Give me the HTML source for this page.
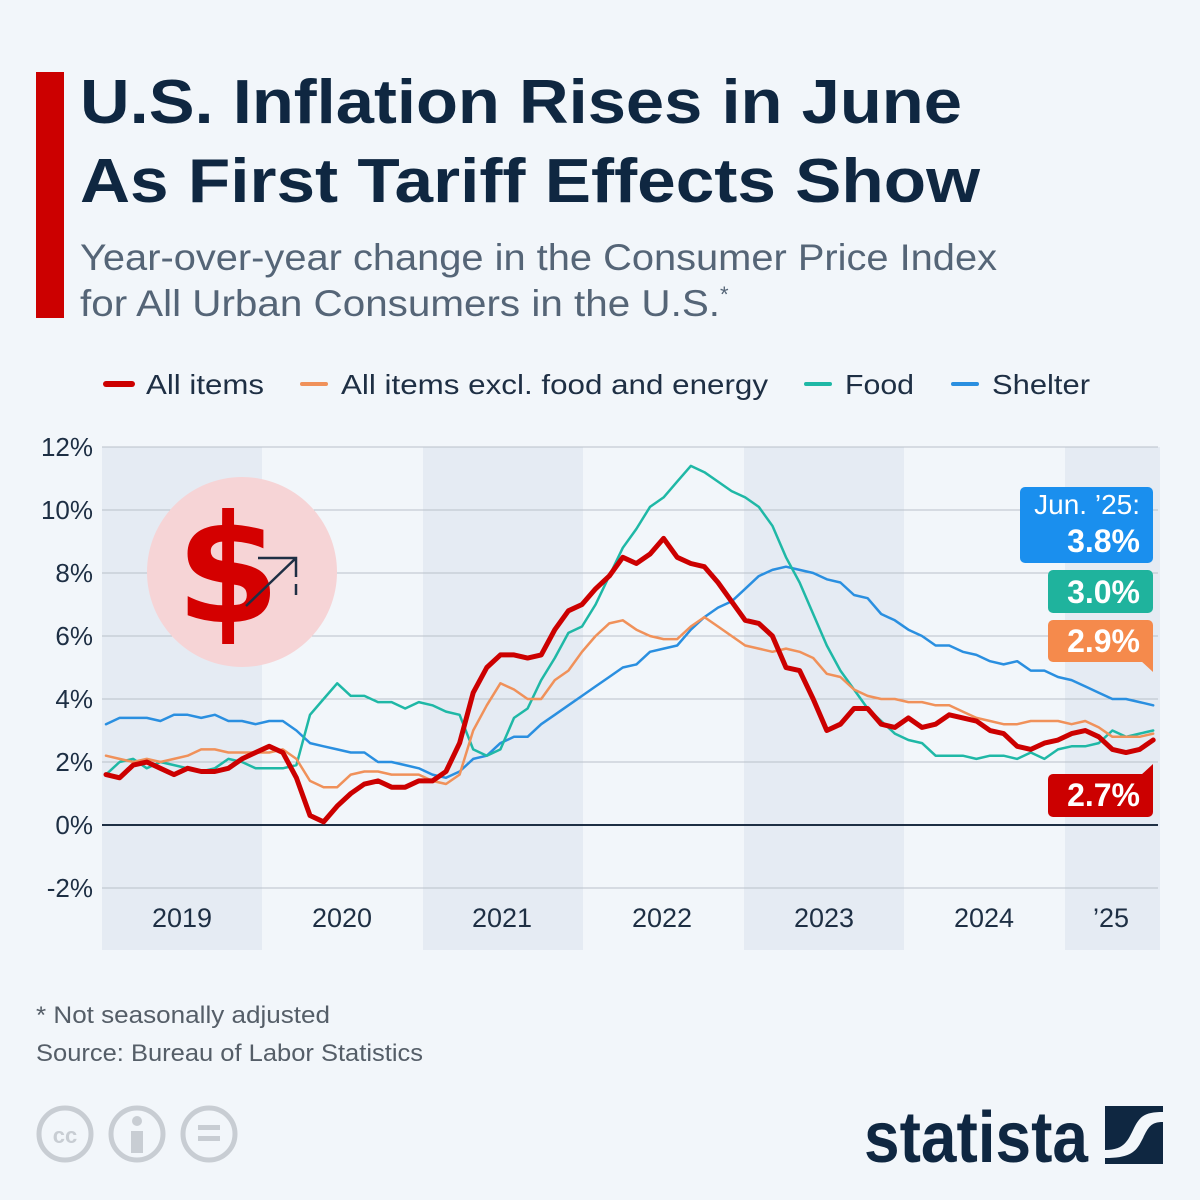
<!DOCTYPE html>
<html><head><meta charset="utf-8"><style>
html,body{margin:0;padding:0;background:#f2f6fa;}
svg{display:block;font-family:"Liberation Sans",sans-serif;}
</style></head><body>
<svg id="s" width="1200" height="1200" viewBox="0 0 1200 1200" xmlns="http://www.w3.org/2000/svg">
<rect width="1200" height="1200" fill="#f2f6fa"/>
<rect x="36" y="72" width="28" height="246" fill="#cc0000"/>
<text x="80" y="123" font-size="62" font-weight="bold" fill="#0f2741" textLength="882" lengthAdjust="spacingAndGlyphs">U.S. Inflation Rises in June</text>
<text x="80" y="202" font-size="62" font-weight="bold" fill="#0f2741" textLength="900" lengthAdjust="spacingAndGlyphs">As First Tariff Effects Show</text>
<text x="80" y="270" font-size="37" fill="#556577" textLength="917" lengthAdjust="spacingAndGlyphs">Year-over-year change in the Consumer Price Index</text>
<text x="80" y="316" font-size="37" fill="#556577"><tspan textLength="640" lengthAdjust="spacingAndGlyphs">for All Urban Consumers in the U.S.</tspan><tspan font-size="22" dy="-14">*</tspan></text>
<g font-size="28" fill="#1e2f44">
<line x1="106" y1="384" x2="132" y2="384" stroke="#cc0000" stroke-width="6" stroke-linecap="round"/><text x="146" y="394" textLength="118" lengthAdjust="spacingAndGlyphs">All items</text>
<line x1="302" y1="384" x2="326" y2="384" stroke="#f0915a" stroke-width="4" stroke-linecap="round"/><text x="341" y="394" textLength="427" lengthAdjust="spacingAndGlyphs">All items excl. food and energy</text>
<line x1="806" y1="384" x2="830" y2="384" stroke="#1fb8a6" stroke-width="4" stroke-linecap="round"/><text x="845" y="394" textLength="69" lengthAdjust="spacingAndGlyphs">Food</text>
<line x1="953" y1="384" x2="977" y2="384" stroke="#2a8fe0" stroke-width="4" stroke-linecap="round"/><text x="992" y="394" textLength="98" lengthAdjust="spacingAndGlyphs">Shelter</text>
</g>
<g fill="#e5ebf3">
<rect x="102" y="447" width="160" height="503"/>
<rect x="423" y="447" width="160" height="503"/>
<rect x="744" y="447" width="160" height="503"/>
<rect x="1065" y="447" width="95" height="503"/>
</g>
<g stroke="#b9c0c9" stroke-width="1">
<line x1="102" x2="1158" y1="447" y2="447"/><line x1="102" x2="1158" y1="510" y2="510"/>
<line x1="102" x2="1158" y1="573" y2="573"/><line x1="102" x2="1158" y1="636" y2="636"/>
<line x1="102" x2="1158" y1="699" y2="699"/><line x1="102" x2="1158" y1="762" y2="762"/>
<line x1="102" x2="1158" y1="888" y2="888"/>
</g>
<line x1="102" x2="1158" y1="825" y2="825" stroke="#1e2f44" stroke-width="2"/>
<g font-size="26" fill="#1e2f44" text-anchor="end">
<text x="93" y="456">12%</text><text x="93" y="519">10%</text><text x="93" y="582">8%</text>
<text x="93" y="645">6%</text><text x="93" y="708">4%</text><text x="93" y="771">2%</text>
<text x="93" y="834">0%</text><text x="93" y="897">-2%</text>
</g>
<g font-size="27" fill="#1e2f44" text-anchor="middle">
<text x="182" y="927">2019</text><text x="342" y="927">2020</text><text x="502" y="927">2021</text>
<text x="662" y="927">2022</text><text x="824" y="927">2023</text><text x="984" y="927">2024</text><text x="1111" y="927">’25</text>
</g>
<circle cx="242" cy="572" r="95" fill="#f6d4d6"/>
<text x="228" y="622" font-size="150" font-weight="bold" fill="#d40000" text-anchor="middle" font-family="DejaVu Sans, sans-serif">$</text>
<path d="M246 606 L296 558 M258 558 L296 558 L296 577 M296 584 L296 595" stroke="#1e2f44" stroke-width="2.5" fill="none"/>
<g id="lines" fill="none" stroke-linejoin="round" stroke-linecap="round"></g>
<rect x="1020" y="487" width="133" height="76" rx="5" fill="#1a8fee"/>
<text x="1140" y="514" font-size="28" fill="#fff" text-anchor="end">Jun. ’25:</text>
<text x="1140" y="552" font-size="32" font-weight="bold" fill="#fff" text-anchor="end">3.8%</text>
<rect x="1048" y="570" width="105" height="43" rx="5" fill="#1fb39d"/>
<text x="1140" y="603" font-size="32" font-weight="bold" fill="#fff" text-anchor="end">3.0%</text>
<rect x="1048" y="620" width="105" height="42" rx="5" fill="#f58a4c"/>
<path d="M1140 660 L1153 672 L1153 655 Z" fill="#f58a4c"/>
<text x="1140" y="652" font-size="32" font-weight="bold" fill="#fff" text-anchor="end">2.9%</text>
<rect x="1048" y="774" width="105" height="43" rx="5" fill="#cc0000"/>
<path d="M1140 776 L1153 764 L1153 782 Z" fill="#cc0000"/>
<text x="1140" y="806" font-size="32" font-weight="bold" fill="#fff" text-anchor="end">2.7%</text>
<text x="36" y="1023" font-size="24" fill="#555e68" textLength="294" lengthAdjust="spacingAndGlyphs">* Not seasonally adjusted</text>
<text x="36" y="1061" font-size="24" fill="#555e68" textLength="387" lengthAdjust="spacingAndGlyphs">Source: Bureau of Labor Statistics</text>
<g stroke="#c8cdd3" stroke-width="5" fill="none">
<circle cx="65" cy="1134" r="26"/><circle cx="137" cy="1134" r="26"/><circle cx="209" cy="1134" r="26"/>
</g>
<text x="65" y="1143" font-size="22" font-weight="bold" fill="#c8cdd3" text-anchor="middle">cc</text>
<rect x="131" y="1131" width="12" height="22" fill="#c8cdd3"/><circle cx="137" cy="1121" r="5" fill="#c8cdd3"/>
<rect x="198" y="1125" width="22" height="5" fill="#c8cdd3"/><rect x="198" y="1136" width="22" height="5" fill="#c8cdd3"/>
<text x="864" y="1162" font-size="72" font-weight="bold" fill="#0f2741" textLength="224" lengthAdjust="spacingAndGlyphs">statista</text>
<rect x="1105" y="1106" width="58" height="58" fill="#0f2741"/>
<path d="M1105 1150 C1125 1150 1128 1140 1134 1128 C1140 1116 1145 1112 1163 1112 L1163 1122 C1150 1122 1148 1128 1142 1140 C1136 1152 1130 1158 1105 1158 Z" fill="#f2f6fa"/>
</svg>
<script>
var D={
a:[1.6,1.5,1.9,2.0,1.8,1.6,1.8,1.7,1.7,1.8,2.1,2.3,2.5,2.3,1.5,0.3,0.1,0.6,1.0,1.3,1.4,1.2,1.2,1.4,1.4,1.7,2.6,4.2,5.0,5.4,5.4,5.3,5.4,6.2,6.8,7.0,7.5,7.9,8.5,8.3,8.6,9.1,8.5,8.3,8.2,7.7,7.1,6.5,6.4,6.0,5.0,4.9,4.0,3.0,3.2,3.7,3.7,3.2,3.1,3.4,3.1,3.2,3.5,3.4,3.3,3.0,2.9,2.5,2.4,2.6,2.7,2.9,3.0,2.8,2.4,2.3,2.4,2.7],
c:[2.2,2.1,2.0,2.1,2.0,2.1,2.2,2.4,2.4,2.3,2.3,2.3,2.3,2.4,2.1,1.4,1.2,1.2,1.6,1.7,1.7,1.6,1.6,1.6,1.4,1.3,1.6,3.0,3.8,4.5,4.3,4.0,4.0,4.6,4.9,5.5,6.0,6.4,6.5,6.2,6.0,5.9,5.9,6.3,6.6,6.3,6.0,5.7,5.6,5.5,5.6,5.5,5.3,4.8,4.7,4.3,4.1,4.0,4.0,3.9,3.9,3.8,3.8,3.6,3.4,3.3,3.2,3.2,3.3,3.3,3.3,3.2,3.3,3.1,2.8,2.8,2.8,2.9],
f:[1.6,2.0,2.1,1.8,2.0,1.9,1.8,1.7,1.8,2.1,2.0,1.8,1.8,1.8,1.9,3.5,4.0,4.5,4.1,4.1,3.9,3.9,3.7,3.9,3.8,3.6,3.5,2.4,2.2,2.4,3.4,3.7,4.6,5.3,6.1,6.3,7.0,7.9,8.8,9.4,10.1,10.4,10.9,11.4,11.2,10.9,10.6,10.4,10.1,9.5,8.5,7.7,6.7,5.7,4.9,4.3,3.7,3.3,2.9,2.7,2.6,2.2,2.2,2.2,2.1,2.2,2.2,2.1,2.3,2.1,2.4,2.5,2.5,2.6,3.0,2.8,2.9,3.0],
s:[3.2,3.4,3.4,3.4,3.3,3.5,3.5,3.4,3.5,3.3,3.3,3.2,3.3,3.3,3.0,2.6,2.5,2.4,2.3,2.3,2.0,2.0,1.9,1.8,1.6,1.5,1.7,2.1,2.2,2.6,2.8,2.8,3.2,3.5,3.8,4.1,4.4,4.7,5.0,5.1,5.5,5.6,5.7,6.2,6.6,6.9,7.1,7.5,7.9,8.1,8.2,8.1,8.0,7.8,7.7,7.3,7.2,6.7,6.5,6.2,6.0,5.7,5.7,5.5,5.4,5.2,5.1,5.2,4.9,4.9,4.7,4.6,4.4,4.2,4.0,4.0,3.9,3.8]};
var st=[['s','#2a8fe0',2.5],['f','#1fb8a6',2.5],['c','#f0915a',2.5],['a','#cc0000',5]];
var g=document.getElementById('lines'),ns='http://www.w3.org/2000/svg';
st.forEach(function(x){var p=D[x[0]].map(function(v,i){return (106+i*13.6).toFixed(1)+','+(825-v*31.5).toFixed(1)}).join(' ');
var e=document.createElementNS(ns,'polyline');e.setAttribute('points',p);e.setAttribute('stroke',x[1]);e.setAttribute('stroke-width',x[2]);g.appendChild(e);});
</script>
</body></html>
